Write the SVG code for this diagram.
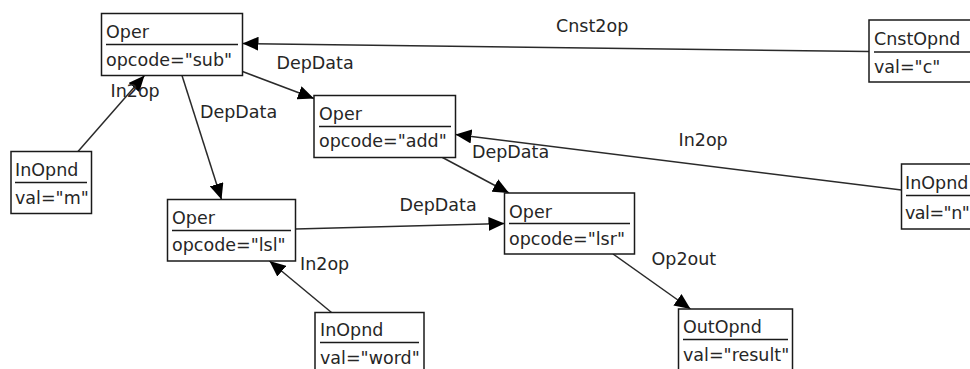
<svg xmlns="http://www.w3.org/2000/svg" width="970" height="369" viewBox="0 0 970 369">
<style>
text{font-family:"DejaVu Sans",Verdana,sans-serif;font-size:17.5px;fill:#262626}
.box{fill:#fff;stroke:#1a1a1a;stroke-width:1.5}
.div{stroke:#1a1a1a;stroke-width:1.5}
.edge{stroke:#2a2a2a;stroke-width:1.5;fill:none;marker-end:url(#arr)}
</style>
<defs>
<marker id="arr" markerUnits="userSpaceOnUse" markerWidth="16" markerHeight="14" refX="16" refY="7" orient="auto">
<path d="M0,0 L16,7 L0,14 z" fill="#000"/>
</marker>
</defs>
<rect width="970" height="369" fill="#fff"/>
<g id="connectors">
<line class="edge" x1="78" y1="151.5" x2="144.5" y2="75.5"/>
<line class="edge" x1="182" y1="75.5" x2="221.5" y2="199.5"/>
<line class="edge" x1="242.5" y1="71.5" x2="314" y2="98.5"/>
<line class="edge" x1="869" y1="51.5" x2="242.5" y2="43.5"/>
<line class="edge" x1="901.5" y1="190" x2="455.5" y2="134.5"/>
<line class="edge" x1="442.5" y1="157.5" x2="509" y2="193"/>
<line class="edge" x1="295.5" y1="229" x2="504.5" y2="223.5"/>
<line class="edge" x1="331.5" y1="312.5" x2="269.5" y2="261"/>
<line class="edge" x1="613" y1="254" x2="690.5" y2="309"/>
<text x="110.5" y="96.5">In2op</text>
<text x="200" y="118">DepData</text>
<text x="276.5" y="69">DepData</text>
<text x="556" y="31.5">Cnst2op</text>
<text x="678.5" y="146">In2op</text>
<text x="472" y="157.5">DepData</text>
<text x="399.5" y="210.5">DepData</text>
<text x="300" y="270">In2op</text>
<text x="651.5" y="265">Op2out</text>
</g>
<g id="oper-sub">
<rect class="box" x="101.5" y="13.5" width="141" height="62"/>
<line class="div" x1="106" y1="44.5" x2="238" y2="44.5"/>
<text x="106" y="38">Oper</text>
<text x="106" y="66">opcode="sub"</text>
</g>
<g id="oper-add">
<rect class="box" x="314" y="95.5" width="141.5" height="62"/>
<line class="div" x1="319" y1="126.5" x2="451" y2="126.5"/>
<text x="319" y="120">Oper</text>
<text x="319" y="147">opcode="add"</text>
</g>
<g id="inopnd-m">
<rect class="box" x="11" y="151.5" width="80.5" height="62"/>
<line class="div" x1="15" y1="182.5" x2="87" y2="182.5"/>
<text x="15" y="176">InOpnd</text>
<text x="15" y="204">val="m"</text>
</g>
<g id="oper-lsl">
<rect class="box" x="167.5" y="199.5" width="128" height="61.5"/>
<line class="div" x1="172" y1="230.5" x2="291" y2="230.5"/>
<text x="172" y="224">Oper</text>
<text x="172" y="251">opcode="lsl"</text>
</g>
<g id="oper-lsr">
<rect class="box" x="504.5" y="193" width="130" height="61"/>
<line class="div" x1="509" y1="223.5" x2="630" y2="223.5"/>
<text x="509" y="217.5">Oper</text>
<text x="509" y="244.5">opcode="lsr"</text>
</g>
<g id="inopnd-word">
<rect class="box" x="315" y="312.5" width="109" height="62"/>
<line class="div" x1="320" y1="342.5" x2="419" y2="342.5"/>
<text x="320" y="336">InOpnd</text>
<text x="320" y="364">val="word"</text>
</g>
<g id="outopnd-result">
<rect class="box" x="678.5" y="309" width="114" height="62"/>
<line class="div" x1="683" y1="339.5" x2="788" y2="339.5"/>
<text x="683" y="333">OutOpnd</text>
<text x="683" y="361">val="result"</text>
</g>
<g id="cnstopnd-c">
<rect class="box" x="869" y="20" width="130" height="62"/>
<line class="div" x1="874" y1="52" x2="995" y2="52"/>
<text x="874" y="45">CnstOpnd</text>
<text x="874" y="72.5">val="c"</text>
</g>
<g id="inopnd-n">
<rect class="box" x="901.5" y="164" width="100" height="65"/>
<line class="div" x1="906" y1="195.5" x2="995" y2="195.5"/>
<text x="905" y="189">InOpnd</text>
<text x="905" y="219" letter-spacing="-0.5">val="n"</text>
</g>
</svg>
